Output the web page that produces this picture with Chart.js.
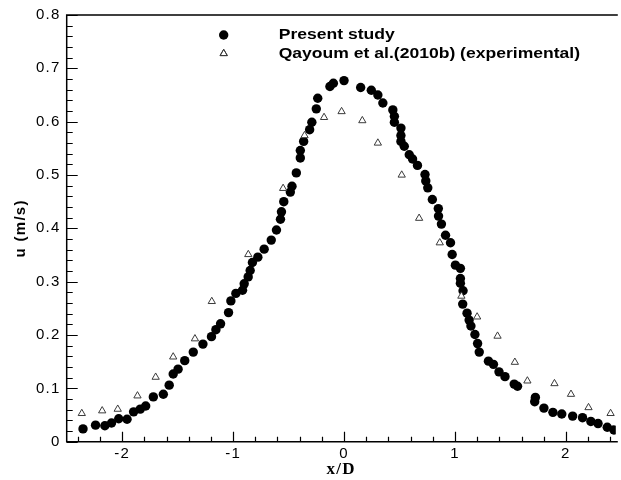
<!DOCTYPE html>
<html>
<head>
<meta charset="utf-8">
<script src="https://cdn.jsdelivr.net/npm/chart.js@4/dist/chart.umd.min.js"></script>
<style>
  html, body { margin: 0; padding: 0; background: #fff; overflow: hidden; }
  canvas { display: block; }
</style>
</head>
<body>
<canvas id="profile" width="621" height="480"></canvas>
<script>
// ── Data ──

var SERIES_LABELS = ['Present study', 'Qayoum et al.(2010b) (experimental)'];

var PRESENT_X = [
  -2.353, -2.24, -2.156, -2.096, -2.031, -1.956, -1.897, -1.837, -1.788, -1.719,
  -1.629, -1.576, -1.54, -1.496, -1.436, -1.359, -1.272, -1.195, -1.155, -1.113,
  -1.041, -1.02, -0.975, -0.915, -0.9, -0.864, -0.846, -0.826, -0.777, -0.72,
  -0.656, -0.609, -0.573, -0.564, -0.543, -0.484, -0.469, -0.43, -0.394, -0.394,
  -0.364, -0.31, -0.29, -0.25, -0.237, -0.127, -0.096, 0.0, 0.15, 0.246,
  0.305, 0.35, 0.44, 0.454, 0.454, 0.513, 0.513, 0.513, 0.543, 0.588,
  0.618, 0.662, 0.73, 0.737, 0.755, 0.796, 0.85, 0.852, 0.878, 0.915,
  0.96, 0.975, 1.004, 1.049, 1.049, 1.049, 1.073, 1.07, 1.109, 1.128,
  1.144, 1.18, 1.204, 1.219, 1.302, 1.347, 1.397, 1.451, 1.534, 1.564,
  1.725, 1.719, 1.802, 1.883, 1.963, 2.061, 2.15, 2.225, 2.29, 2.373, 2.433
];
var PRESENT_U = [
  0.024, 0.031, 0.030, 0.035, 0.043, 0.042, 0.056, 0.061, 0.067, 0.084,
  0.089, 0.106, 0.127, 0.136, 0.152, 0.168, 0.183, 0.197, 0.210, 0.221,
  0.242, 0.264, 0.278, 0.284, 0.296, 0.309, 0.321, 0.336, 0.346, 0.361,
  0.378, 0.397, 0.417, 0.431, 0.450, 0.468, 0.479, 0.504, 0.532, 0.546,
  0.563, 0.585, 0.599, 0.624, 0.644, 0.666, 0.672, 0.677, 0.664, 0.659,
  0.650, 0.635, 0.622, 0.610, 0.599, 0.588, 0.574, 0.563, 0.554, 0.538,
  0.530, 0.518, 0.501, 0.489, 0.476, 0.454, 0.437, 0.423, 0.408, 0.387,
  0.373, 0.351, 0.331, 0.325, 0.306, 0.297, 0.283, 0.258, 0.241, 0.228,
  0.217, 0.201, 0.184, 0.168, 0.151, 0.145, 0.131, 0.122, 0.108, 0.104,
  0.083, 0.075, 0.063, 0.055, 0.052, 0.048, 0.045, 0.038, 0.034, 0.027, 0.022
];

var QAYOUM_X = [
  -2.364, -2.18, -2.04, -1.862, -1.698, -1.54, -1.344, -1.192, -0.863, -0.549,
  -0.356, -0.18, -0.022, 0.165, 0.305, 0.52, 0.677, 0.863, 1.058, 1.2,
  1.384, 1.54, 1.653, 1.897, 2.046, 2.204, 2.403
];
var QAYOUM_U = [
  0.053, 0.058, 0.061, 0.086, 0.121, 0.159, 0.193, 0.263, 0.351, 0.475,
  0.574, 0.608, 0.619, 0.602, 0.560, 0.500, 0.419, 0.373, 0.273, 0.234,
  0.198, 0.149, 0.114, 0.109, 0.089, 0.064, 0.053
];

var X_TICKS = [-2, -1, 0, 1, 2];
var X_TICK_LABELS = ['-2', '-1', '0', '1', '2'];
var Y_TICKS = [0, 0.1, 0.2, 0.3, 0.4, 0.5, 0.6, 0.7, 0.8];
var Y_TICK_LABELS = ['0', '0.1', '0.2', '0.3', '0.4', '0.5', '0.6', '0.7', '0.8'];

var X_MIN = -2.5, X_MAX = 2.45;
var Y_MIN = 0, Y_MAX = 0.8;

function toPoints(xs, ys) {
  return xs.map(function (x, i) { return { x: x, y: ys[i] }; });
}

// ── Plugins ──

// wider text like the original export
var textSpacing = {
  id: 'textSpacing',
  beforeDraw: function (chart) { chart.ctx.letterSpacing = '1.3px'; }
};

// Tecplot style frame with inward ticks
var frameTicks = {
  id: 'frameTicks',
  beforeDatasetsDraw: function (chart) {
    var ctx = chart.ctx;
    var a = chart.chartArea;
    var xs = chart.scales.x, ys = chart.scales.y;
    ctx.save();
    ctx.strokeStyle = '#000';
    ctx.lineWidth = 1.5;
    ctx.beginPath();
    ctx.moveTo(a.right + 2, a.top);
    ctx.lineTo(a.left, a.top);
    ctx.lineTo(a.left, a.bottom);
    ctx.lineTo(a.right + 2, a.bottom);
    ctx.stroke();

    ctx.lineWidth = 1.2;
    ctx.beginPath();
    var v, p, major;
    for (var i = -24; i <= 24; i += 2) {
      v = i / 10;
      if (v < X_MIN || v > X_MAX) continue;
      major = (i % 10 === 0);
      p = Math.round(xs.getPixelForValue(v)) + 0.5;
      ctx.moveTo(p, a.bottom);
      ctx.lineTo(p, a.bottom - (major ? 10 : 5));
    }
    for (var j = 0; j <= 40; j++) {
      v = j / 50;
      major = (j % 5 === 0);
      p = Math.round(ys.getPixelForValue(v)) + 0.5;
      ctx.moveTo(a.left, p);
      ctx.lineTo(a.left + (major ? 11 : 6), p);
    }
    ctx.stroke();
    ctx.restore();
  }
};

// legend inside the plot, top centre
var insideLegend = {
  id: 'insideLegend',
  afterDraw: function (chart) {
    var ctx = chart.ctx;
    var a = chart.chartArea;
    var markX = a.left + 157;
    var textX = a.left + 212;
    var rowY = [a.top + 20, a.top + 38.5];
    ctx.save();
    ctx.letterSpacing = '0px';
    chart.data.datasets.forEach(function (ds, i) {
      ctx.fillStyle = ds.backgroundColor;
      ctx.strokeStyle = ds.borderColor;
      ctx.lineWidth = ds.borderWidth;
      Chart.helpers.drawPoint(ctx, {
        pointStyle: ds.pointStyle, radius: ds.pointRadius, borderWidth: ds.borderWidth, rotation: 0
      }, markX, rowY[i]);
      if (ds.borderWidth) ctx.stroke();
      ctx.save();
      ctx.translate(textX, rowY[i]);
      ctx.scale(1.17, 1);
      ctx.fillStyle = '#000';
      ctx.font = 'bold 15px "Liberation Sans", Arial, sans-serif';
      ctx.textBaseline = 'middle';
      ctx.textAlign = 'left';
      ctx.fillText(ds.label, 0, 0);
      ctx.restore();
    });
    ctx.restore();
  }
};

// ── Chart ──

var tickFont = { family: '"Liberation Sans", Arial, sans-serif', size: 15 };

new Chart(document.getElementById('profile').getContext('2d'), {
  type: 'scatter',
  data: {
    datasets: [
      {
        label: SERIES_LABELS[0],
        data: toPoints(PRESENT_X, PRESENT_U),
        pointStyle: 'circle',
        pointRadius: 4.7,
        backgroundColor: '#000',
        borderColor: '#000',
        borderWidth: 0,
        order: 1
      },
      {
        label: SERIES_LABELS[1],
        data: toPoints(QAYOUM_X, QAYOUM_U),
        pointStyle: 'triangle',
        pointRadius: 4.2,
        backgroundColor: '#fff',
        borderColor: '#3a3a3a',
        borderWidth: 1,
        order: 0
      }
    ]
  },
  options: {
    responsive: false,
    animation: false,
    events: [],
    layout: { padding: { top: 15, right: 0, bottom: 0, left: 0 } },
    plugins: { legend: { display: false }, tooltip: { enabled: false } },
    scales: {
      x: {
        type: 'linear',
        min: X_MIN,
        max: X_MAX,
        grid: { display: false, drawTicks: false },
        border: { display: false },
        afterBuildTicks: function (s) { s.ticks = X_TICKS.map(function (v) { return { value: v }; }); },
        afterFit: function (s) { s.height = 38.3; },
        ticks: {
          color: '#000',
          font: tickFont,
          padding: 3,
          maxRotation: 0,
          callback: function (v) { return X_TICK_LABELS[X_TICKS.indexOf(v)]; }
        },
        title: {
          display: true,
          text: 'x/D',
          color: '#000',
          font: { family: '"Liberation Serif", "Times New Roman", serif', size: 17, weight: 'bold' },
          padding: { top: 0, bottom: 0 }
        }
      },
      y: {
        type: 'linear',
        min: Y_MIN,
        max: Y_MAX,
        grid: { display: false, drawTicks: false },
        border: { display: false },
        afterBuildTicks: function (s) { s.ticks = Y_TICKS.map(function (v) { return { value: v }; }); },
        afterFit: function (s) { s.width = 66.7; },
        ticks: {
          color: '#000',
          font: tickFont,
          padding: 6,
          callback: function (v) {
            var k = Y_TICKS.findIndex(function (t) { return Math.abs(t - v) < 1e-9; });
            return Y_TICK_LABELS[k];
          }
        },
        title: {
          display: true,
          text: 'u (m/s)',
          color: '#000',
          font: { family: '"Liberation Sans", Arial, sans-serif', size: 15, weight: 'bold' },
          padding: { top: 12, bottom: 0 }
        }
      }
    }
  },
  plugins: [textSpacing, frameTicks, insideLegend]
});
</script>
</body>
</html>
